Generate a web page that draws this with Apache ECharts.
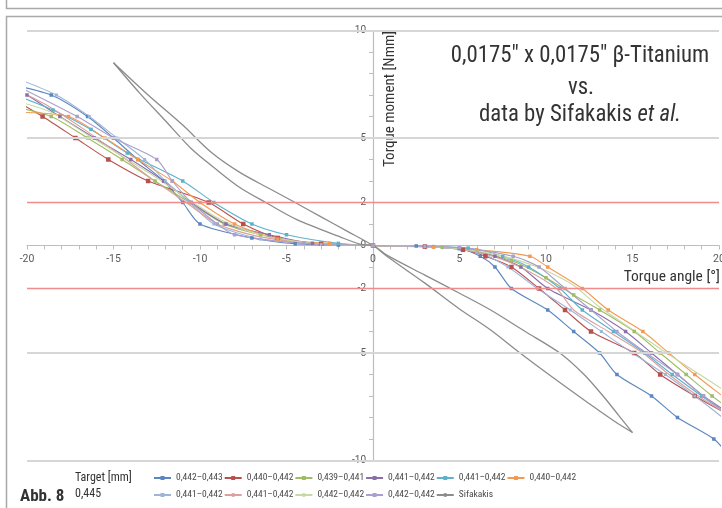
<!DOCTYPE html>
<html>
<head>
<meta charset="utf-8">
<title>Abb. 8</title>
<script src="https://cdn.jsdelivr.net/npm/echarts@6.0.0/dist/echarts.min.js"></script>
<style>
    html, body { margin: 0; padding: 0; background: #fff; }
    #chart-main { width: 722px; height: 508px; }
</style>
</head>
<body>
<div id="chart-main"></div>
<script>
'use strict';

var FONT = "'Roboto Condensed', Roboto, 'Liberation Sans', sans-serif";
var TICKFONT = "Roboto, 'Liberation Sans', sans-serif";

// axis labels
var xLabels = [-20, -15, -10, -5, 0, 5, 10, 15, 20];
var yLabels = [10, 5, 2, 0, -2, -5, -10];
var greyLevels = [10, 5, -5, -10];
var redLevels = [2, -2];

// series ids, legend texts, colours
var seriesIds = ['t1', 't2', 't3', 't4', 't5', 't6', 't7', 't8', 't9', 't10', 'sif'];
var legendTexts = ['0,442–0,443', '0,440–0,442', '0,439–0,441', '0,441–0,442', '0,441–0,442', '0,440–0,442',
    '0,441–0,442', '0,441–0,442', '0,442–0,442', '0,442–0,442', 'Sifakakis'];
var colors = ['#5b86c0', '#b8504e', '#9fbd62', '#8a6fab', '#5db2cb', '#f39a52',
    '#9db6d8', '#dc9f9d', '#c7d9a4', '#ab9fcb', '#8c8c8c'];
var markerSizes = [3.5, 4.5, 3.5, 3.5, 3.5, 3.5, 3, 0, 0, 3.5, 0];

// torque angle [deg], torque moment [Nmm]
var t1 = [[-21, 7.5], [-18.6, 7], [-16.5, 6], [-15.0, 5], [-13.6, 4], [-12.1, 3], [-11, 2], [-10, 1], [-7, 0.35], [-4.5, 0.08], [-2, 0.02], [0, 0],
    [2.5, -0.02], [5, -0.15], [6.2, -0.5], [7.05, -1], [8.0, -2], [10.1, -3], [11.6, -4], [13.1, -5], [14.1, -6], [16.1, -7], [17.6, -8], [19.7, -9], [20.6, -9.8]];
var t2 = [[-21, 6.9], [-19.1, 6], [-17.2, 5], [-15.3, 4], [-13, 3], [-9.5, 2], [-7.5, 1], [-5.5, 0.35], [-3, 0.08], [0, 0],
    [3, -0.05], [5.2, -0.2], [6.5, -0.5], [8.0, -1], [9.6, -2], [11.1, -3], [12.6, -4], [15.1, -5], [16.6, -6], [18.6, -7], [20.6, -7.9]];
var t3 = [[-21, 6.5], [-18.6, 6], [-16.5, 5], [-14.5, 4], [-12.6, 3], [-10.6, 2], [-8.6, 1], [-6.5, 0.5], [-4, 0.12], [0, 0],
    [4, -0.08], [6, -0.3], [8, -0.7], [10, -1.5], [11.6, -2.3], [13.1, -3], [15.1, -4], [16.6, -5], [18.1, -6], [19.6, -7], [20.8, -7.7]];
var t4 = [[-20.8, 7.3], [-20, 7], [-18.1, 6], [-16.1, 5], [-14, 4], [-12.1, 3], [-10.5, 2], [-8.5, 1], [-6, 0.5], [-3.5, 0.1], [0, 0],
    [3, -0.05], [5, -0.12], [7.05, -0.5], [8.55, -1], [10.1, -2], [12.6, -3], [14.6, -4], [16.1, -5], [17.6, -6], [19.1, -7], [20.6, -7.8]];
var t5 = [[-21, 7.1], [-18.5, 6.3], [-16.3, 5.4], [-14.2, 4.3], [-11, 3], [-9.2, 2], [-7, 1], [-5, 0.5], [-2, 0.1], [0, 0],
    [3.5, -0.05], [5.5, -0.12], [7.5, -0.5], [9, -1], [10.8, -2], [12.1, -3], [13.9, -4], [15.7, -5], [17.3, -6], [19, -7], [20.6, -7.9]];
var t6 = [[-21, 6.2], [-17.6, 6], [-15.5, 5], [-13.6, 4], [-11.6, 3], [-10, 2], [-8, 1], [-5.5, 0.3], [-2.5, 0.1], [0, 0],
    [3.5, -0.08], [6, -0.2], [9.07, -0.5], [10.1, -1], [12.1, -2], [13.6, -3], [15.6, -4], [17.1, -5], [18.6, -6], [20.2, -7], [20.9, -7.4]];
var t7 = [[-21, 7.9], [-18.3, 7], [-16.4, 6], [-14.8, 5], [-13.2, 4], [-12, 3], [-10.6, 2], [-9.2, 1], [-6.5, 0.3], [-3, 0.05], [0, 0],
    [3, -0.05], [6, -0.3], [7.8, -1], [9.5, -2], [11.4, -3], [13.2, -4], [15, -5], [16.9, -6], [18.6, -7], [20.2, -8], [20.8, -8.5]];
var t8 = [[-21, 7.4], [-18.8, 6.5], [-16.7, 5.4], [-14.6, 4.2], [-12.8, 3.1], [-10.8, 2], [-9, 1], [-6.5, 0.4], [-3, 0.05], [0, 0],
    [4, -0.06], [6.5, -0.4], [8.5, -1], [10.6, -2], [11.6, -3], [13.6, -4], [15.6, -5], [17.1, -6], [18.8, -7], [20.6, -7.9]];
var t9 = [[-21, 6.8], [-18.6, 6.2], [-16.6, 5.2], [-14.6, 4.2], [-12.6, 3.2], [-10.6, 2.1], [-8.8, 1.2], [-6.5, 0.5], [-3.5, 0.1], [0, 0],
    [4, -0.08], [7, -0.4], [9.5, -1], [11.5, -1.8], [13, -2.8], [14.8, -3.8], [16.6, -4.8], [18.5, -5.8], [20.6, -6.9]];
var t10 = [[-21, 7.6], [-17.1, 6], [-15, 5], [-12.5, 4], [-11.6, 3], [-10.5, 2], [-9, 1], [-8, 0.5], [-4, 0.1], [0, 0],
    [5, -0.1], [8.1, -0.5], [9.6, -1], [11.1, -2], [12.6, -3], [14.1, -4], [15.8, -5], [17.6, -6], [19.1, -7], [20.6, -7.9]];

// Sifakakis: two branches of the loop
var sifA = [[-15, 8.5], [-13, 7.0], [-11, 5.6], [-9.3, 4.3], [-7.7, 3.4], [-6, 2.65], [-4.5, 2], [-3, 1.33], [-1.5, 0.67], [0, 0],
    [0.8, -0.5], [3, -1.75], [5, -2.95], [6.8, -3.93], [8.5, -5], [10.5, -6.2], [12.4, -7.3], [14, -8.2], [15, -8.7]];
var sifB = [[-15, 8.5], [-13.5, 7.1], [-12, 5.8], [-10.5, 4.5], [-9, 3.5], [-7.7, 2.7], [-6.2, 2], [-4.4, 1.2], [-1.9, 0.4], [-0.7, 0.05], [0, 0],
    [0.8, -0.45], [3, -1.38], [5, -2.22], [6.8, -3.0], [8.8, -4.0], [10.8, -5], [12.2, -6], [13.3, -7], [14.2, -7.9], [15, -8.7]];

var targetData = [t1, t2, t3, t4, t5, t6, t7, t8, t9, t10];

function buildSeries() {
    var list = [];
    targetData.forEach(function (d, i) {
        list.push({
            name: seriesIds[i],
            type: 'line',
            data: d,
            smooth: 0.25,
            symbol: markerSizes[i] ? 'rect' : 'none',
            symbolSize: markerSizes[i],
            showSymbol: markerSizes[i] > 0,
            lineStyle: {width: 1.1, color: colors[i]},
            itemStyle: {color: colors[i]},
            emphasis: {disabled: true}
        });
    });
    [sifA, sifB].forEach(function (d) {
        list.push({
            name: 'sif',
            type: 'line',
            data: d,
            smooth: 0.3,
            symbol: 'none',
            lineStyle: {width: 1.3, color: colors[10]},
            itemStyle: {color: colors[10]},
            emphasis: {disabled: true},
            z: 3
        });
    });
    // horizontal reference lines
    var marks = [];
    greyLevels.forEach(function (v) {
        marks.push({yAxis: v, lineStyle: {color: '#d6d6d6', width: 2, type: 'solid'}});
    });
    redLevels.forEach(function (v) {
        marks.push({yAxis: v, lineStyle: {color: '#ef8c8c', width: 1.3, type: 'solid'}});
    });
    list.push({
        name: 'refs',
        type: 'line',
        data: [],
        symbol: 'none',
        z: 1,
        markLine: {silent: true, symbol: 'none', label: {show: false}, data: marks, animation: false}
    });
    return list;
}

function legendRow(ids, top) {
    return {
        data: ids,
        left: 153,
        top: top,
        padding: 0,
        itemGap: 1,
        itemWidth: 17,
        itemHeight: 5,
        selectedMode: false,
        formatter: function (name) {
            return legendTexts[seriesIds.indexOf(name)];
        },
        textStyle: {fontFamily: FONT, fontSize: 9.5, color: '#4a4a4a'}
    };
}

function label(text, x, y, size, extra) {
    var el = {
        type: 'text', silent: true, x: x, y: y,
        style: {text: text, fontFamily: FONT, fontSize: size, fill: '#333', align: 'center', verticalAlign: 'middle'}
    };
    return echarts.util.merge(el, extra || {}, true);
}

var myChart = echarts.init(document.getElementById('chart-main'), null, {renderer: 'canvas'});

var option = {
    animation: false,
    backgroundColor: '#fff',
    textStyle: {fontFamily: FONT},
    grid: {left: 27, right: 3, top: 30.5, bottom: 47.5, containLabel: false, outerBoundsMode: 'none'},
    legend: [
        legendRow(seriesIds.slice(0, 6), 473),
        legendRow(seriesIds.slice(6), 490)
    ],
    xAxis: {
        type: 'value',
        position: 'bottom',
        offset: -215,
        min: -20,
        max: 20,
        interval: 1,
        axisLine: {onZero: false, lineStyle: {color: '#bdbdbd', width: 1.2}},
        axisTick: {show: true, length: 4, lineStyle: {color: '#bdbdbd'}},
        splitLine: {show: false},
        axisLabel: {
            margin: 8,
            fontFamily: TICKFONT,
            fontSize: 10.5,
            color: '#5a5a5a',
            formatter: function (v) {
                return xLabels.indexOf(v) >= 0 ? String(v) : '';
            }
        }
    },
    yAxis: {
        type: 'value',
        position: 'left',
        offset: -346,
        min: -10,
        max: 10,
        interval: 1,
        axisLine: {show: true, onZero: false, lineStyle: {color: '#bdbdbd', width: 1.2}},
        axisTick: {show: true, length: 4, lineStyle: {color: '#bdbdbd'}},
        splitLine: {show: false},
        axisLabel: {
            margin: 7,
            fontFamily: TICKFONT,
            fontSize: 10,
            color: '#5a5a5a',
            formatter: function (v) {
                return yLabels.indexOf(v) >= 0 ? String(v) : '';
            }
        }
    },
    graphic: [
        // panel frames
        {type: 'polyline', silent: true, shape: {points: [[6.5, 0], [6.5, 8.5], [722, 8.5]]}, style: {stroke: '#a9a9a9', lineWidth: 1.5, fill: null}},
        {type: 'polyline', silent: true, shape: {points: [[6.5, 508], [6.5, 16.5], [722, 16.5]]}, style: {stroke: '#a9a9a9', lineWidth: 1.5, fill: null}},
        // title block
        label('0,0175″ x 0,0175″ β-Titanium', 580, 56, 24, {scaleX: 0.95}),
        label('vs.', 581, 88, 24, {scaleX: 0.95}),
        label('data by Sifakakis {i|et al.}', 580, 115, 24, {scaleX: 0.95, style: {rich: {i: {fontFamily: FONT, fontSize: 24, fontStyle: 'italic', fill: '#333'}}}}),
        // axis names
        label('Torque moment [Nmm]', 390, 99, 15, {rotation: Math.PI / 2}),
        label('Torque angle [°]', 720, 277, 15.5, {style: {align: 'right'}}),
        // caption
        label('Abb. 8', 20, 497, 17, {style: {align: 'left', fontWeight: 'bold'}}),
        label('Target [mm]', 75, 478, 12, {style: {align: 'left'}}),
        label('0,445', 75, 494, 12, {style: {align: 'left'}})
    ],
    series: buildSeries()
};

myChart.setOption(option);
</script>
</body>
</html>
